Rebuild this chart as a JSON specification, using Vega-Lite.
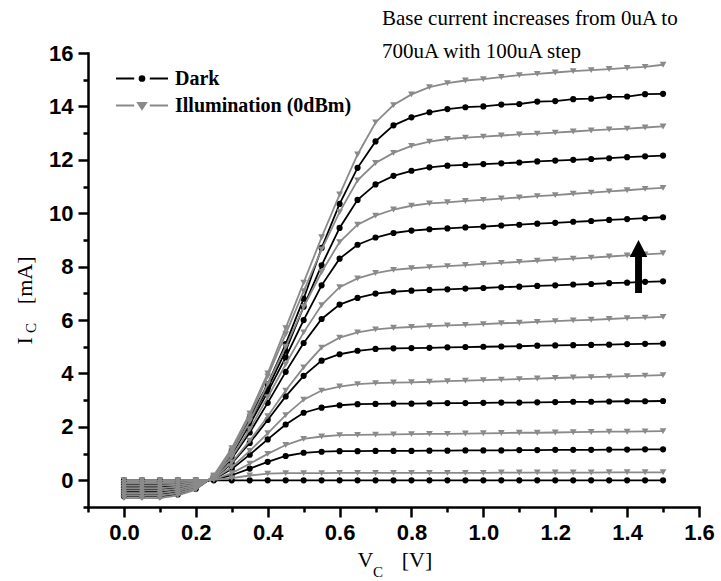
{
  "$schema": "https://vega.github.io/schema/vega-lite/v6.json",
  "width": 611,
  "height": 454,
  "autosize": {"type": "none"},
  "padding": {"left": 88, "top": 53, "right": 22, "bottom": 74},
  "background": "white",
  "config": {"view": {"stroke": null}, "font": "Liberation Sans"},
  "resolve": {"axis": {"x": "independent", "y": "independent"}},
  "datasets": {
    "curves": [
      {"c":"Dark","b":0,"v":0,"i":0},{"c":"Dark","b":0,"v":0.05,"i":0},{"c":"Dark","b":0,"v":0.1,"i":0},{"c":"Dark","b":0,"v":0.15,"i":0},{"c":"Dark","b":0,"v":0.2,"i":0},{"c":"Dark","b":0,"v":0.25,"i":0},{"c":"Dark","b":0,"v":0.3,"i":0},{"c":"Dark","b":0,"v":0.35,"i":0},{"c":"Dark","b":0,"v":0.4,"i":0},{"c":"Dark","b":0,"v":0.45,"i":0},{"c":"Dark","b":0,"v":0.5,"i":0},{"c":"Dark","b":0,"v":0.55,"i":0},{"c":"Dark","b":0,"v":0.6,"i":0},{"c":"Dark","b":0,"v":0.65,"i":0},{"c":"Dark","b":0,"v":0.7,"i":0},{"c":"Dark","b":0,"v":0.75,"i":0},{"c":"Dark","b":0,"v":0.8,"i":0},{"c":"Dark","b":0,"v":0.85,"i":0},{"c":"Dark","b":0,"v":0.9,"i":0},{"c":"Dark","b":0,"v":0.95,"i":0},{"c":"Dark","b":0,"v":1,"i":0},{"c":"Dark","b":0,"v":1.05,"i":0},{"c":"Dark","b":0,"v":1.1,"i":0},{"c":"Dark","b":0,"v":1.15,"i":0},{"c":"Dark","b":0,"v":1.2,"i":0},{"c":"Dark","b":0,"v":1.25,"i":0},{"c":"Dark","b":0,"v":1.3,"i":0},{"c":"Dark","b":0,"v":1.35,"i":0},{"c":"Dark","b":0,"v":1.4,"i":0},{"c":"Dark","b":0,"v":1.45,"i":0},{"c":"Dark","b":0,"v":1.5,"i":0},
      {"c":"Dark","b":100,"v":0,"i":-0.09},{"c":"Dark","b":100,"v":0.05,"i":-0.09},{"c":"Dark","b":100,"v":0.1,"i":-0.09},{"c":"Dark","b":100,"v":0.15,"i":-0.08},{"c":"Dark","b":100,"v":0.2,"i":-0.05},{"c":"Dark","b":100,"v":0.25,"i":0.02},{"c":"Dark","b":100,"v":0.3,"i":0.19},{"c":"Dark","b":100,"v":0.35,"i":0.44},{"c":"Dark","b":100,"v":0.4,"i":0.69},{"c":"Dark","b":100,"v":0.45,"i":0.91},{"c":"Dark","b":100,"v":0.5,"i":1.03},{"c":"Dark","b":100,"v":0.55,"i":1.07},{"c":"Dark","b":100,"v":0.6,"i":1.09},{"c":"Dark","b":100,"v":0.65,"i":1.09},{"c":"Dark","b":100,"v":0.7,"i":1.1},{"c":"Dark","b":100,"v":0.75,"i":1.1},{"c":"Dark","b":100,"v":0.8,"i":1.1},{"c":"Dark","b":100,"v":0.85,"i":1.11},{"c":"Dark","b":100,"v":0.9,"i":1.11},{"c":"Dark","b":100,"v":0.95,"i":1.12},{"c":"Dark","b":100,"v":1,"i":1.12},{"c":"Dark","b":100,"v":1.05,"i":1.12},{"c":"Dark","b":100,"v":1.1,"i":1.13},{"c":"Dark","b":100,"v":1.15,"i":1.13},{"c":"Dark","b":100,"v":1.2,"i":1.14},{"c":"Dark","b":100,"v":1.25,"i":1.14},{"c":"Dark","b":100,"v":1.3,"i":1.14},{"c":"Dark","b":100,"v":1.35,"i":1.15},{"c":"Dark","b":100,"v":1.4,"i":1.15},{"c":"Dark","b":100,"v":1.45,"i":1.16},{"c":"Dark","b":100,"v":1.5,"i":1.16},
      {"c":"Dark","b":200,"v":0,"i":-0.17},{"c":"Dark","b":200,"v":0.05,"i":-0.17},{"c":"Dark","b":200,"v":0.1,"i":-0.17},{"c":"Dark","b":200,"v":0.15,"i":-0.15},{"c":"Dark","b":200,"v":0.2,"i":-0.09},{"c":"Dark","b":200,"v":0.25,"i":0.04},{"c":"Dark","b":200,"v":0.3,"i":0.42},{"c":"Dark","b":200,"v":0.35,"i":0.96},{"c":"Dark","b":200,"v":0.4,"i":1.53},{"c":"Dark","b":200,"v":0.45,"i":2.09},{"c":"Dark","b":200,"v":0.5,"i":2.53},{"c":"Dark","b":200,"v":0.55,"i":2.72},{"c":"Dark","b":200,"v":0.6,"i":2.81},{"c":"Dark","b":200,"v":0.65,"i":2.85},{"c":"Dark","b":200,"v":0.7,"i":2.86},{"c":"Dark","b":200,"v":0.75,"i":2.87},{"c":"Dark","b":200,"v":0.8,"i":2.87},{"c":"Dark","b":200,"v":0.85,"i":2.88},{"c":"Dark","b":200,"v":0.9,"i":2.89},{"c":"Dark","b":200,"v":0.95,"i":2.89},{"c":"Dark","b":200,"v":1,"i":2.9},{"c":"Dark","b":200,"v":1.05,"i":2.91},{"c":"Dark","b":200,"v":1.1,"i":2.91},{"c":"Dark","b":200,"v":1.15,"i":2.92},{"c":"Dark","b":200,"v":1.2,"i":2.93},{"c":"Dark","b":200,"v":1.25,"i":2.94},{"c":"Dark","b":200,"v":1.3,"i":2.94},{"c":"Dark","b":200,"v":1.35,"i":2.95},{"c":"Dark","b":200,"v":1.4,"i":2.96},{"c":"Dark","b":200,"v":1.45,"i":2.96},{"c":"Dark","b":200,"v":1.5,"i":2.97},
      {"c":"Dark","b":300,"v":0,"i":-0.26},{"c":"Dark","b":300,"v":0.05,"i":-0.26},{"c":"Dark","b":300,"v":0.1,"i":-0.26},{"c":"Dark","b":300,"v":0.15,"i":-0.23},{"c":"Dark","b":300,"v":0.2,"i":-0.14},{"c":"Dark","b":300,"v":0.25,"i":0.06},{"c":"Dark","b":300,"v":0.3,"i":0.63},{"c":"Dark","b":300,"v":0.35,"i":1.4},{"c":"Dark","b":300,"v":0.4,"i":2.26},{"c":"Dark","b":300,"v":0.45,"i":3.14},{"c":"Dark","b":300,"v":0.5,"i":3.91},{"c":"Dark","b":300,"v":0.55,"i":4.48},{"c":"Dark","b":300,"v":0.6,"i":4.72},{"c":"Dark","b":300,"v":0.65,"i":4.85},{"c":"Dark","b":300,"v":0.7,"i":4.92},{"c":"Dark","b":300,"v":0.75,"i":4.94},{"c":"Dark","b":300,"v":0.8,"i":4.95},{"c":"Dark","b":300,"v":0.85,"i":4.96},{"c":"Dark","b":300,"v":0.9,"i":4.98},{"c":"Dark","b":300,"v":0.95,"i":4.99},{"c":"Dark","b":300,"v":1,"i":5.0},{"c":"Dark","b":300,"v":1.05,"i":5.01},{"c":"Dark","b":300,"v":1.1,"i":5.02},{"c":"Dark","b":300,"v":1.15,"i":5.04},{"c":"Dark","b":300,"v":1.2,"i":5.05},{"c":"Dark","b":300,"v":1.25,"i":5.06},{"c":"Dark","b":300,"v":1.3,"i":5.07},{"c":"Dark","b":300,"v":1.35,"i":5.08},{"c":"Dark","b":300,"v":1.4,"i":5.1},{"c":"Dark","b":300,"v":1.45,"i":5.11},{"c":"Dark","b":300,"v":1.5,"i":5.12},
      {"c":"Dark","b":400,"v":0,"i":-0.34},{"c":"Dark","b":400,"v":0.05,"i":-0.34},{"c":"Dark","b":400,"v":0.1,"i":-0.34},{"c":"Dark","b":400,"v":0.15,"i":-0.3},{"c":"Dark","b":400,"v":0.2,"i":-0.18},{"c":"Dark","b":400,"v":0.25,"i":0.08},{"c":"Dark","b":400,"v":0.3,"i":0.82},{"c":"Dark","b":400,"v":0.35,"i":1.79},{"c":"Dark","b":400,"v":0.4,"i":2.9},{"c":"Dark","b":400,"v":0.45,"i":4.06},{"c":"Dark","b":400,"v":0.5,"i":5.14},{"c":"Dark","b":400,"v":0.55,"i":6.04},{"c":"Dark","b":400,"v":0.6,"i":6.58},{"c":"Dark","b":400,"v":0.65,"i":6.83},{"c":"Dark","b":400,"v":0.7,"i":6.99},{"c":"Dark","b":400,"v":0.75,"i":7.06},{"c":"Dark","b":400,"v":0.8,"i":7.1},{"c":"Dark","b":400,"v":0.85,"i":7.13},{"c":"Dark","b":400,"v":0.9,"i":7.15},{"c":"Dark","b":400,"v":0.95,"i":7.18},{"c":"Dark","b":400,"v":1,"i":7.2},{"c":"Dark","b":400,"v":1.05,"i":7.23},{"c":"Dark","b":400,"v":1.1,"i":7.25},{"c":"Dark","b":400,"v":1.15,"i":7.28},{"c":"Dark","b":400,"v":1.2,"i":7.3},{"c":"Dark","b":400,"v":1.25,"i":7.33},{"c":"Dark","b":400,"v":1.3,"i":7.35},{"c":"Dark","b":400,"v":1.35,"i":7.38},{"c":"Dark","b":400,"v":1.4,"i":7.4},{"c":"Dark","b":400,"v":1.45,"i":7.43},{"c":"Dark","b":400,"v":1.5,"i":7.45},
      {"c":"Dark","b":500,"v":0,"i":-0.43},{"c":"Dark","b":500,"v":0.05,"i":-0.43},{"c":"Dark","b":500,"v":0.1,"i":-0.43},{"c":"Dark","b":500,"v":0.15,"i":-0.38},{"c":"Dark","b":500,"v":0.2,"i":-0.23},{"c":"Dark","b":500,"v":0.25,"i":0.1},{"c":"Dark","b":500,"v":0.3,"i":0.97},{"c":"Dark","b":500,"v":0.35,"i":2.1},{"c":"Dark","b":500,"v":0.4,"i":3.3},{"c":"Dark","b":500,"v":0.45,"i":4.6},{"c":"Dark","b":500,"v":0.5,"i":6.0},{"c":"Dark","b":500,"v":0.55,"i":7.3},{"c":"Dark","b":500,"v":0.6,"i":8.3},{"c":"Dark","b":500,"v":0.65,"i":8.82},{"c":"Dark","b":500,"v":0.7,"i":9.09},{"c":"Dark","b":500,"v":0.75,"i":9.26},{"c":"Dark","b":500,"v":0.8,"i":9.35},{"c":"Dark","b":500,"v":0.85,"i":9.4},{"c":"Dark","b":500,"v":0.9,"i":9.43},{"c":"Dark","b":500,"v":0.95,"i":9.47},{"c":"Dark","b":500,"v":1,"i":9.5},{"c":"Dark","b":500,"v":1.05,"i":9.54},{"c":"Dark","b":500,"v":1.1,"i":9.57},{"c":"Dark","b":500,"v":1.15,"i":9.61},{"c":"Dark","b":500,"v":1.2,"i":9.64},{"c":"Dark","b":500,"v":1.25,"i":9.68},{"c":"Dark","b":500,"v":1.3,"i":9.71},{"c":"Dark","b":500,"v":1.35,"i":9.75},{"c":"Dark","b":500,"v":1.4,"i":9.78},{"c":"Dark","b":500,"v":1.45,"i":9.82},{"c":"Dark","b":500,"v":1.5,"i":9.85},
      {"c":"Dark","b":600,"v":0,"i":-0.51},{"c":"Dark","b":600,"v":0.05,"i":-0.51},{"c":"Dark","b":600,"v":0.1,"i":-0.51},{"c":"Dark","b":600,"v":0.15,"i":-0.45},{"c":"Dark","b":600,"v":0.2,"i":-0.27},{"c":"Dark","b":600,"v":0.25,"i":0.12},{"c":"Dark","b":600,"v":0.3,"i":1.05},{"c":"Dark","b":600,"v":0.35,"i":2.25},{"c":"Dark","b":600,"v":0.4,"i":3.45},{"c":"Dark","b":600,"v":0.45,"i":4.85},{"c":"Dark","b":600,"v":0.5,"i":6.5},{"c":"Dark","b":600,"v":0.55,"i":8.05},{"c":"Dark","b":600,"v":0.6,"i":9.45},{"c":"Dark","b":600,"v":0.65,"i":10.5},{"c":"Dark","b":600,"v":0.7,"i":11.08},{"c":"Dark","b":600,"v":0.75,"i":11.4},{"c":"Dark","b":600,"v":0.8,"i":11.59},{"c":"Dark","b":600,"v":0.85,"i":11.72},{"c":"Dark","b":600,"v":0.9,"i":11.78},{"c":"Dark","b":600,"v":0.95,"i":11.81},{"c":"Dark","b":600,"v":1,"i":11.84},{"c":"Dark","b":600,"v":1.05,"i":11.87},{"c":"Dark","b":600,"v":1.1,"i":11.9},{"c":"Dark","b":600,"v":1.15,"i":11.94},{"c":"Dark","b":600,"v":1.2,"i":11.97},{"c":"Dark","b":600,"v":1.25,"i":12.0},{"c":"Dark","b":600,"v":1.3,"i":12.03},{"c":"Dark","b":600,"v":1.35,"i":12.06},{"c":"Dark","b":600,"v":1.4,"i":12.1},{"c":"Dark","b":600,"v":1.45,"i":12.13},{"c":"Dark","b":600,"v":1.5,"i":12.16},
      {"c":"Dark","b":700,"v":0,"i":-0.6},{"c":"Dark","b":700,"v":0.05,"i":-0.6},{"c":"Dark","b":700,"v":0.1,"i":-0.6},{"c":"Dark","b":700,"v":0.15,"i":-0.53},{"c":"Dark","b":700,"v":0.2,"i":-0.32},{"c":"Dark","b":700,"v":0.25,"i":0.14},{"c":"Dark","b":700,"v":0.3,"i":1.1},{"c":"Dark","b":700,"v":0.35,"i":2.35},{"c":"Dark","b":700,"v":0.4,"i":3.6},{"c":"Dark","b":700,"v":0.45,"i":5.1},{"c":"Dark","b":700,"v":0.5,"i":6.8},{"c":"Dark","b":700,"v":0.55,"i":8.7},{"c":"Dark","b":700,"v":0.6,"i":10.35},{"c":"Dark","b":700,"v":0.65,"i":11.7},{"c":"Dark","b":700,"v":0.7,"i":12.69},{"c":"Dark","b":700,"v":0.75,"i":13.29},{"c":"Dark","b":700,"v":0.8,"i":13.59},{"c":"Dark","b":700,"v":0.85,"i":13.78},{"c":"Dark","b":700,"v":0.9,"i":13.9},{"c":"Dark","b":700,"v":0.95,"i":13.97},{"c":"Dark","b":700,"v":1,"i":14.0},{"c":"Dark","b":700,"v":1.05,"i":14.07},{"c":"Dark","b":700,"v":1.1,"i":14.09},{"c":"Dark","b":700,"v":1.15,"i":14.18},{"c":"Dark","b":700,"v":1.2,"i":14.2},{"c":"Dark","b":700,"v":1.25,"i":14.27},{"c":"Dark","b":700,"v":1.3,"i":14.29},{"c":"Dark","b":700,"v":1.35,"i":14.36},{"c":"Dark","b":700,"v":1.4,"i":14.37},{"c":"Dark","b":700,"v":1.45,"i":14.46},{"c":"Dark","b":700,"v":1.5,"i":14.47},
      {"c":"Illumination (0dBm)","b":0,"v":0,"i":0},{"c":"Illumination (0dBm)","b":0,"v":0.05,"i":0},{"c":"Illumination (0dBm)","b":0,"v":0.1,"i":0},{"c":"Illumination (0dBm)","b":0,"v":0.15,"i":0},{"c":"Illumination (0dBm)","b":0,"v":0.2,"i":0},{"c":"Illumination (0dBm)","b":0,"v":0.25,"i":0.02},{"c":"Illumination (0dBm)","b":0,"v":0.3,"i":0.08},{"c":"Illumination (0dBm)","b":0,"v":0.35,"i":0.18},{"c":"Illumination (0dBm)","b":0,"v":0.4,"i":0.25},{"c":"Illumination (0dBm)","b":0,"v":0.45,"i":0.27},{"c":"Illumination (0dBm)","b":0,"v":0.5,"i":0.27},{"c":"Illumination (0dBm)","b":0,"v":0.55,"i":0.27},{"c":"Illumination (0dBm)","b":0,"v":0.6,"i":0.28},{"c":"Illumination (0dBm)","b":0,"v":0.65,"i":0.28},{"c":"Illumination (0dBm)","b":0,"v":0.7,"i":0.28},{"c":"Illumination (0dBm)","b":0,"v":0.75,"i":0.28},{"c":"Illumination (0dBm)","b":0,"v":0.8,"i":0.28},{"c":"Illumination (0dBm)","b":0,"v":0.85,"i":0.28},{"c":"Illumination (0dBm)","b":0,"v":0.9,"i":0.28},{"c":"Illumination (0dBm)","b":0,"v":0.95,"i":0.28},{"c":"Illumination (0dBm)","b":0,"v":1,"i":0.28},{"c":"Illumination (0dBm)","b":0,"v":1.05,"i":0.29},{"c":"Illumination (0dBm)","b":0,"v":1.1,"i":0.29},{"c":"Illumination (0dBm)","b":0,"v":1.15,"i":0.29},{"c":"Illumination (0dBm)","b":0,"v":1.2,"i":0.29},{"c":"Illumination (0dBm)","b":0,"v":1.25,"i":0.29},{"c":"Illumination (0dBm)","b":0,"v":1.3,"i":0.29},{"c":"Illumination (0dBm)","b":0,"v":1.35,"i":0.3},{"c":"Illumination (0dBm)","b":0,"v":1.4,"i":0.3},{"c":"Illumination (0dBm)","b":0,"v":1.45,"i":0.3},{"c":"Illumination (0dBm)","b":0,"v":1.5,"i":0.3},
      {"c":"Illumination (0dBm)","b":100,"v":0,"i":-0.1},{"c":"Illumination (0dBm)","b":100,"v":0.05,"i":-0.1},{"c":"Illumination (0dBm)","b":100,"v":0.1,"i":-0.1},{"c":"Illumination (0dBm)","b":100,"v":0.15,"i":-0.08},{"c":"Illumination (0dBm)","b":100,"v":0.2,"i":-0.05},{"c":"Illumination (0dBm)","b":100,"v":0.25,"i":0.03},{"c":"Illumination (0dBm)","b":100,"v":0.3,"i":0.27},{"c":"Illumination (0dBm)","b":100,"v":0.35,"i":0.62},{"c":"Illumination (0dBm)","b":100,"v":0.4,"i":0.99},{"c":"Illumination (0dBm)","b":100,"v":0.45,"i":1.32},{"c":"Illumination (0dBm)","b":100,"v":0.5,"i":1.55},{"c":"Illumination (0dBm)","b":100,"v":0.55,"i":1.64},{"c":"Illumination (0dBm)","b":100,"v":0.6,"i":1.69},{"c":"Illumination (0dBm)","b":100,"v":0.65,"i":1.7},{"c":"Illumination (0dBm)","b":100,"v":0.7,"i":1.71},{"c":"Illumination (0dBm)","b":100,"v":0.75,"i":1.72},{"c":"Illumination (0dBm)","b":100,"v":0.8,"i":1.73},{"c":"Illumination (0dBm)","b":100,"v":0.85,"i":1.74},{"c":"Illumination (0dBm)","b":100,"v":0.9,"i":1.74},{"c":"Illumination (0dBm)","b":100,"v":0.95,"i":1.75},{"c":"Illumination (0dBm)","b":100,"v":1,"i":1.76},{"c":"Illumination (0dBm)","b":100,"v":1.05,"i":1.77},{"c":"Illumination (0dBm)","b":100,"v":1.1,"i":1.78},{"c":"Illumination (0dBm)","b":100,"v":1.15,"i":1.78},{"c":"Illumination (0dBm)","b":100,"v":1.2,"i":1.79},{"c":"Illumination (0dBm)","b":100,"v":1.25,"i":1.8},{"c":"Illumination (0dBm)","b":100,"v":1.3,"i":1.81},{"c":"Illumination (0dBm)","b":100,"v":1.35,"i":1.82},{"c":"Illumination (0dBm)","b":100,"v":1.4,"i":1.82},{"c":"Illumination (0dBm)","b":100,"v":1.45,"i":1.83},{"c":"Illumination (0dBm)","b":100,"v":1.5,"i":1.84},
      {"c":"Illumination (0dBm)","b":200,"v":0,"i":-0.19},{"c":"Illumination (0dBm)","b":200,"v":0.05,"i":-0.19},{"c":"Illumination (0dBm)","b":200,"v":0.1,"i":-0.19},{"c":"Illumination (0dBm)","b":200,"v":0.15,"i":-0.16},{"c":"Illumination (0dBm)","b":200,"v":0.2,"i":-0.1},{"c":"Illumination (0dBm)","b":200,"v":0.25,"i":0.05},{"c":"Illumination (0dBm)","b":200,"v":0.3,"i":0.49},{"c":"Illumination (0dBm)","b":200,"v":0.35,"i":1.1},{"c":"Illumination (0dBm)","b":200,"v":0.4,"i":1.76},{"c":"Illumination (0dBm)","b":200,"v":0.45,"i":2.44},{"c":"Illumination (0dBm)","b":200,"v":0.5,"i":3.02},{"c":"Illumination (0dBm)","b":200,"v":0.55,"i":3.36},{"c":"Illumination (0dBm)","b":200,"v":0.6,"i":3.51},{"c":"Illumination (0dBm)","b":200,"v":0.65,"i":3.6},{"c":"Illumination (0dBm)","b":200,"v":0.7,"i":3.64},{"c":"Illumination (0dBm)","b":200,"v":0.75,"i":3.66},{"c":"Illumination (0dBm)","b":200,"v":0.8,"i":3.67},{"c":"Illumination (0dBm)","b":200,"v":0.85,"i":3.69},{"c":"Illumination (0dBm)","b":200,"v":0.9,"i":3.71},{"c":"Illumination (0dBm)","b":200,"v":0.95,"i":3.73},{"c":"Illumination (0dBm)","b":200,"v":1,"i":3.75},{"c":"Illumination (0dBm)","b":200,"v":1.05,"i":3.77},{"c":"Illumination (0dBm)","b":200,"v":1.1,"i":3.79},{"c":"Illumination (0dBm)","b":200,"v":1.15,"i":3.81},{"c":"Illumination (0dBm)","b":200,"v":1.2,"i":3.83},{"c":"Illumination (0dBm)","b":200,"v":1.25,"i":3.85},{"c":"Illumination (0dBm)","b":200,"v":1.3,"i":3.86},{"c":"Illumination (0dBm)","b":200,"v":1.35,"i":3.88},{"c":"Illumination (0dBm)","b":200,"v":1.4,"i":3.9},{"c":"Illumination (0dBm)","b":200,"v":1.45,"i":3.92},{"c":"Illumination (0dBm)","b":200,"v":1.5,"i":3.94},
      {"c":"Illumination (0dBm)","b":300,"v":0,"i":-0.29},{"c":"Illumination (0dBm)","b":300,"v":0.05,"i":-0.29},{"c":"Illumination (0dBm)","b":300,"v":0.1,"i":-0.29},{"c":"Illumination (0dBm)","b":300,"v":0.15,"i":-0.24},{"c":"Illumination (0dBm)","b":300,"v":0.2,"i":-0.15},{"c":"Illumination (0dBm)","b":300,"v":0.25,"i":0.08},{"c":"Illumination (0dBm)","b":300,"v":0.3,"i":0.67},{"c":"Illumination (0dBm)","b":300,"v":0.35,"i":1.48},{"c":"Illumination (0dBm)","b":300,"v":0.4,"i":2.4},{"c":"Illumination (0dBm)","b":300,"v":0.45,"i":3.36},{"c":"Illumination (0dBm)","b":300,"v":0.5,"i":4.23},{"c":"Illumination (0dBm)","b":300,"v":0.55,"i":4.97},{"c":"Illumination (0dBm)","b":300,"v":0.6,"i":5.34},{"c":"Illumination (0dBm)","b":300,"v":0.65,"i":5.54},{"c":"Illumination (0dBm)","b":300,"v":0.7,"i":5.65},{"c":"Illumination (0dBm)","b":300,"v":0.75,"i":5.71},{"c":"Illumination (0dBm)","b":300,"v":0.8,"i":5.74},{"c":"Illumination (0dBm)","b":300,"v":0.85,"i":5.77},{"c":"Illumination (0dBm)","b":300,"v":0.9,"i":5.8},{"c":"Illumination (0dBm)","b":300,"v":0.95,"i":5.82},{"c":"Illumination (0dBm)","b":300,"v":1,"i":5.85},{"c":"Illumination (0dBm)","b":300,"v":1.05,"i":5.88},{"c":"Illumination (0dBm)","b":300,"v":1.1,"i":5.9},{"c":"Illumination (0dBm)","b":300,"v":1.15,"i":5.93},{"c":"Illumination (0dBm)","b":300,"v":1.2,"i":5.96},{"c":"Illumination (0dBm)","b":300,"v":1.25,"i":5.99},{"c":"Illumination (0dBm)","b":300,"v":1.3,"i":6.01},{"c":"Illumination (0dBm)","b":300,"v":1.35,"i":6.04},{"c":"Illumination (0dBm)","b":300,"v":1.4,"i":6.07},{"c":"Illumination (0dBm)","b":300,"v":1.45,"i":6.09},{"c":"Illumination (0dBm)","b":300,"v":1.5,"i":6.12},
      {"c":"Illumination (0dBm)","b":400,"v":0,"i":-0.38},{"c":"Illumination (0dBm)","b":400,"v":0.05,"i":-0.38},{"c":"Illumination (0dBm)","b":400,"v":0.1,"i":-0.38},{"c":"Illumination (0dBm)","b":400,"v":0.15,"i":-0.32},{"c":"Illumination (0dBm)","b":400,"v":0.2,"i":-0.2},{"c":"Illumination (0dBm)","b":400,"v":0.25,"i":0.1},{"c":"Illumination (0dBm)","b":400,"v":0.3,"i":0.87},{"c":"Illumination (0dBm)","b":400,"v":0.35,"i":1.91},{"c":"Illumination (0dBm)","b":400,"v":0.4,"i":3.11},{"c":"Illumination (0dBm)","b":400,"v":0.45,"i":4.34},{"c":"Illumination (0dBm)","b":400,"v":0.5,"i":5.54},{"c":"Illumination (0dBm)","b":400,"v":0.55,"i":6.56},{"c":"Illumination (0dBm)","b":400,"v":0.6,"i":7.23},{"c":"Illumination (0dBm)","b":400,"v":0.65,"i":7.56},{"c":"Illumination (0dBm)","b":400,"v":0.7,"i":7.76},{"c":"Illumination (0dBm)","b":400,"v":0.75,"i":7.88},{"c":"Illumination (0dBm)","b":400,"v":0.8,"i":7.94},{"c":"Illumination (0dBm)","b":400,"v":0.85,"i":7.98},{"c":"Illumination (0dBm)","b":400,"v":0.9,"i":8.02},{"c":"Illumination (0dBm)","b":400,"v":0.95,"i":8.06},{"c":"Illumination (0dBm)","b":400,"v":1,"i":8.1},{"c":"Illumination (0dBm)","b":400,"v":1.05,"i":8.14},{"c":"Illumination (0dBm)","b":400,"v":1.1,"i":8.18},{"c":"Illumination (0dBm)","b":400,"v":1.15,"i":8.22},{"c":"Illumination (0dBm)","b":400,"v":1.2,"i":8.26},{"c":"Illumination (0dBm)","b":400,"v":1.25,"i":8.3},{"c":"Illumination (0dBm)","b":400,"v":1.3,"i":8.34},{"c":"Illumination (0dBm)","b":400,"v":1.35,"i":8.38},{"c":"Illumination (0dBm)","b":400,"v":1.4,"i":8.42},{"c":"Illumination (0dBm)","b":400,"v":1.45,"i":8.46},{"c":"Illumination (0dBm)","b":400,"v":1.5,"i":8.5},
      {"c":"Illumination (0dBm)","b":500,"v":0,"i":-0.48},{"c":"Illumination (0dBm)","b":500,"v":0.05,"i":-0.48},{"c":"Illumination (0dBm)","b":500,"v":0.1,"i":-0.48},{"c":"Illumination (0dBm)","b":500,"v":0.15,"i":-0.4},{"c":"Illumination (0dBm)","b":500,"v":0.2,"i":-0.25},{"c":"Illumination (0dBm)","b":500,"v":0.25,"i":0.13},{"c":"Illumination (0dBm)","b":500,"v":0.3,"i":1.01},{"c":"Illumination (0dBm)","b":500,"v":0.35,"i":2.21},{"c":"Illumination (0dBm)","b":500,"v":0.4,"i":3.6},{"c":"Illumination (0dBm)","b":500,"v":0.45,"i":5.0},{"c":"Illumination (0dBm)","b":500,"v":0.5,"i":6.49},{"c":"Illumination (0dBm)","b":500,"v":0.55,"i":7.8},{"c":"Illumination (0dBm)","b":500,"v":0.6,"i":8.92},{"c":"Illumination (0dBm)","b":500,"v":0.65,"i":9.57},{"c":"Illumination (0dBm)","b":500,"v":0.7,"i":9.91},{"c":"Illumination (0dBm)","b":500,"v":0.75,"i":10.14},{"c":"Illumination (0dBm)","b":500,"v":0.8,"i":10.28},{"c":"Illumination (0dBm)","b":500,"v":0.85,"i":10.37},{"c":"Illumination (0dBm)","b":500,"v":0.9,"i":10.41},{"c":"Illumination (0dBm)","b":500,"v":0.95,"i":10.46},{"c":"Illumination (0dBm)","b":500,"v":1,"i":10.5},{"c":"Illumination (0dBm)","b":500,"v":1.05,"i":10.55},{"c":"Illumination (0dBm)","b":500,"v":1.1,"i":10.59},{"c":"Illumination (0dBm)","b":500,"v":1.15,"i":10.64},{"c":"Illumination (0dBm)","b":500,"v":1.2,"i":10.68},{"c":"Illumination (0dBm)","b":500,"v":1.25,"i":10.73},{"c":"Illumination (0dBm)","b":500,"v":1.3,"i":10.77},{"c":"Illumination (0dBm)","b":500,"v":1.35,"i":10.82},{"c":"Illumination (0dBm)","b":500,"v":1.4,"i":10.86},{"c":"Illumination (0dBm)","b":500,"v":1.45,"i":10.91},{"c":"Illumination (0dBm)","b":500,"v":1.5,"i":10.95},
      {"c":"Illumination (0dBm)","b":600,"v":0,"i":-0.57},{"c":"Illumination (0dBm)","b":600,"v":0.05,"i":-0.57},{"c":"Illumination (0dBm)","b":600,"v":0.1,"i":-0.57},{"c":"Illumination (0dBm)","b":600,"v":0.15,"i":-0.48},{"c":"Illumination (0dBm)","b":600,"v":0.2,"i":-0.3},{"c":"Illumination (0dBm)","b":600,"v":0.25,"i":0.15},{"c":"Illumination (0dBm)","b":600,"v":0.3,"i":1.11},{"c":"Illumination (0dBm)","b":600,"v":0.35,"i":2.39},{"c":"Illumination (0dBm)","b":600,"v":0.4,"i":3.89},{"c":"Illumination (0dBm)","b":600,"v":0.45,"i":5.47},{"c":"Illumination (0dBm)","b":600,"v":0.5,"i":7.08},{"c":"Illumination (0dBm)","b":600,"v":0.55,"i":8.64},{"c":"Illumination (0dBm)","b":600,"v":0.6,"i":10.04},{"c":"Illumination (0dBm)","b":600,"v":0.65,"i":11.23},{"c":"Illumination (0dBm)","b":600,"v":0.7,"i":11.88},{"c":"Illumination (0dBm)","b":600,"v":0.75,"i":12.26},{"c":"Illumination (0dBm)","b":600,"v":0.8,"i":12.52},{"c":"Illumination (0dBm)","b":600,"v":0.85,"i":12.68},{"c":"Illumination (0dBm)","b":600,"v":0.9,"i":12.78},{"c":"Illumination (0dBm)","b":600,"v":0.95,"i":12.83},{"c":"Illumination (0dBm)","b":600,"v":1,"i":12.87},{"c":"Illumination (0dBm)","b":600,"v":1.05,"i":12.91},{"c":"Illumination (0dBm)","b":600,"v":1.1,"i":12.95},{"c":"Illumination (0dBm)","b":600,"v":1.15,"i":12.98},{"c":"Illumination (0dBm)","b":600,"v":1.2,"i":13.02},{"c":"Illumination (0dBm)","b":600,"v":1.25,"i":13.06},{"c":"Illumination (0dBm)","b":600,"v":1.3,"i":13.1},{"c":"Illumination (0dBm)","b":600,"v":1.35,"i":13.14},{"c":"Illumination (0dBm)","b":600,"v":1.4,"i":13.17},{"c":"Illumination (0dBm)","b":600,"v":1.45,"i":13.21},{"c":"Illumination (0dBm)","b":600,"v":1.5,"i":13.25},
      {"c":"Illumination (0dBm)","b":700,"v":0,"i":-0.67},{"c":"Illumination (0dBm)","b":700,"v":0.05,"i":-0.67},{"c":"Illumination (0dBm)","b":700,"v":0.1,"i":-0.67},{"c":"Illumination (0dBm)","b":700,"v":0.15,"i":-0.56},{"c":"Illumination (0dBm)","b":700,"v":0.2,"i":-0.35},{"c":"Illumination (0dBm)","b":700,"v":0.25,"i":0.18},{"c":"Illumination (0dBm)","b":700,"v":0.3,"i":1.2},{"c":"Illumination (0dBm)","b":700,"v":0.35,"i":2.5},{"c":"Illumination (0dBm)","b":700,"v":0.4,"i":4.0},{"c":"Illumination (0dBm)","b":700,"v":0.45,"i":5.7},{"c":"Illumination (0dBm)","b":700,"v":0.5,"i":7.4},{"c":"Illumination (0dBm)","b":700,"v":0.55,"i":9.1},{"c":"Illumination (0dBm)","b":700,"v":0.6,"i":10.7},{"c":"Illumination (0dBm)","b":700,"v":0.65,"i":12.2},{"c":"Illumination (0dBm)","b":700,"v":0.7,"i":13.4},{"c":"Illumination (0dBm)","b":700,"v":0.75,"i":14.05},{"c":"Illumination (0dBm)","b":700,"v":0.8,"i":14.45},{"c":"Illumination (0dBm)","b":700,"v":0.85,"i":14.72},{"c":"Illumination (0dBm)","b":700,"v":0.9,"i":14.87},{"c":"Illumination (0dBm)","b":700,"v":0.95,"i":14.97},{"c":"Illumination (0dBm)","b":700,"v":1,"i":15.02},{"c":"Illumination (0dBm)","b":700,"v":1.05,"i":15.1},{"c":"Illumination (0dBm)","b":700,"v":1.1,"i":15.17},{"c":"Illumination (0dBm)","b":700,"v":1.15,"i":15.22},{"c":"Illumination (0dBm)","b":700,"v":1.2,"i":15.27},{"c":"Illumination (0dBm)","b":700,"v":1.25,"i":15.32},{"c":"Illumination (0dBm)","b":700,"v":1.3,"i":15.36},{"c":"Illumination (0dBm)","b":700,"v":1.35,"i":15.4},{"c":"Illumination (0dBm)","b":700,"v":1.4,"i":15.44},{"c":"Illumination (0dBm)","b":700,"v":1.45,"i":15.48},{"c":"Illumination (0dBm)","b":700,"v":1.5,"i":15.56}
    ]
  },
  "layer": [
    {
      "data": {"name": "curves"},
      "transform": [{"filter": "datum.c === 'Dark'"}],
      "mark": {"type": "line", "color": "#000000", "strokeWidth": 1.8},
      "encoding": {
        "x": {
          "field": "v", "type": "quantitative",
          "scale": {"domain": [-0.1, 1.6], "nice": false, "zero": false},
          "axis": {
            "orient": "bottom",
            "values": [0,0.2,0.4,0.6,0.8,1.0,1.2,1.4,1.6],
            "format": ".1f",
            "tickSize": 10,
            "labelFont": "Liberation Sans", "labelFontWeight": "bold", "labelFontSize": 22, "labelColor": "#000000",
            "labelPadding": 5, "labelFlush": false, "labelOverlap": false,
            "domainColor": "#000000", "domainWidth": 2.5, "domainCap": "square",
            "tickColor": "#000000", "tickWidth": 2.5, "grid": false,
            "title": "V",
            "titleFont": "Liberation Serif", "titleFontSize": 22, "titleFontWeight": "normal", "titleColor": "#000000",
            "titleAlign": "center", "titleBaseline": "alphabetic", "titleX": 277, "titleY": 59
          }
        },
        "y": {
          "field": "i", "type": "quantitative",
          "scale": {"domain": [-1, 16], "nice": false, "zero": false},
          "axis": {
            "orient": "left",
            "values": [0,2,4,6,8,10,12,14,16],
            "tickSize": 10,
            "labelFont": "Liberation Sans", "labelFontWeight": "bold", "labelFontSize": 22, "labelColor": "#000000",
            "labelPadding": 5, "labelFlush": false, "labelOverlap": false,
            "domainColor": "#000000", "domainWidth": 2.5, "domainCap": "square",
            "tickColor": "#000000", "tickWidth": 2.5, "grid": false,
            "title": "I\u00a0\u00a0\u00a0\u00a0\u00a0\u00a0[mA]",
            "titleFont": "Liberation Serif", "titleFontSize": 22, "titleFontWeight": "normal", "titleColor": "#000000",
            "titleAngle": 270, "titleAlign": "center", "titleBaseline": "alphabetic", "titleX": -57, "titleY": 247
          }
        },
        "detail": {"field": "b", "type": "nominal"}
      }
    },
    {
      "data": {"name": "curves"},
      "transform": [{"filter": "datum.c === 'Dark'"}],
      "mark": {"type": "point", "shape": "circle", "filled": true, "opacity": 1, "size": 38, "color": "#000000"},
      "encoding": {
        "x": {
          "field": "v", "type": "quantitative",
          "axis": {"orient": "bottom", "values": [-0.1,0.1,0.3,0.5,0.7,0.9,1.1,1.3,1.5], "labels": false, "domain": false, "grid": false, "tickSize": 5, "tickWidth": 2.5, "tickColor": "#000000", "title": null}
        },
        "y": {
          "field": "i", "type": "quantitative",
          "axis": {"orient": "left", "values": [-1,1,3,5,7,9,11,13,15], "labels": false, "domain": false, "grid": false, "tickSize": 5, "tickWidth": 2.5, "tickColor": "#000000", "title": null}
        },
        "detail": {"field": "b", "type": "nominal"}
      }
    },
    {
      "data": {"name": "curves"},
      "transform": [{"filter": "datum.c !== 'Dark'"}],
      "mark": {"type": "line", "color": "#8a8a8a", "strokeWidth": 1.8},
      "encoding": {
        "x": {"field": "v", "type": "quantitative", "axis": null},
        "y": {"field": "i", "type": "quantitative", "axis": null},
        "detail": {"field": "b", "type": "nominal"}
      }
    },
    {
      "data": {"name": "curves"},
      "transform": [{"filter": "datum.c !== 'Dark'"}],
      "mark": {"type": "point", "shape": "triangle-down", "filled": true, "opacity": 1, "size": 46, "color": "#8a8a8a"},
      "encoding": {
        "x": {"field": "v", "type": "quantitative", "axis": null},
        "y": {"field": "i", "type": "quantitative", "axis": null},
        "detail": {"field": "b", "type": "nominal"}
      }
    },
    {
      "data": {"name": "curves"},
      "transform": [{"filter": "datum.v > 99"}],
      "mark": {"type": "point", "strokeWidth": 2, "opacity": 1},
      "encoding": {
        "x": {"field": "v", "type": "quantitative", "axis": null},
        "y": {"field": "i", "type": "quantitative", "axis": null},
        "shape": {
          "field": "c", "type": "nominal",
          "scale": {"domain": ["Dark", "Illumination (0dBm)"], "range": ["M-1,0L-0.3,0M0.3,0L1,0M0.09,0A0.09,0.09,0,1,1,-0.09,0A0.09,0.09,0,1,1,0.09,0Z", "M-1,0L-0.3,0M0.3,0L1,0M-0.15,-0.1L0.15,-0.1L0,0.13Z"]},
          "legend": {"title": null, "orient": "none", "legendX": 27, "legendY": 15, "symbolSize": 2704, "symbolStrokeWidth": 2, "clipHeight": 21, "rowPadding": 6, "labelFont": "Liberation Serif", "labelFontSize": 20, "labelFontWeight": "bold", "labelColor": "#000000", "labelOffset": 6, "labelLimit": 0, "padding": 0}
        },
        "fill": {
          "field": "c", "type": "nominal",
          "scale": {"domain": ["Dark", "Illumination (0dBm)"], "range": ["#000000", "#8a8a8a"]},
          "legend": {"title": null, "orient": "none", "legendX": 27, "legendY": 15, "symbolSize": 2704, "symbolStrokeWidth": 2, "clipHeight": 21, "rowPadding": 6, "labelFont": "Liberation Serif", "labelFontSize": 20, "labelFontWeight": "bold", "labelColor": "#000000", "labelOffset": 6, "labelLimit": 0, "padding": 0}
        },
        "stroke": {
          "field": "c", "type": "nominal",
          "scale": {"domain": ["Dark", "Illumination (0dBm)"], "range": ["#000000", "#8a8a8a"]},
          "legend": {"title": null, "orient": "none", "legendX": 27, "legendY": 15, "symbolSize": 2704, "symbolStrokeWidth": 2, "clipHeight": 21, "rowPadding": 6, "labelFont": "Liberation Serif", "labelFontSize": 20, "labelFontWeight": "bold", "labelColor": "#000000", "labelOffset": 6, "labelLimit": 0, "padding": 0}
        }
      }
    },
    {
      "data": {"values": [{"note": "Base current increases from 0uA to\n700uA with 100uA step"}]},
      "mark": {"type": "text", "align": "left", "baseline": "alphabetic", "font": "Liberation Serif", "fontSize": 21, "lineHeight": 33, "lineBreak": "\n", "color": "#000000"},
      "encoding": {
        "x": {"datum": 0.718, "type": "quantitative", "axis": null},
        "y": {"datum": 17.05, "type": "quantitative", "axis": null},
        "text": {"field": "note"}
      }
    },
    {
      "data": {"values": [{"marker": "increasing base current"}]},
      "mark": {"type": "point", "shape": "M-0.13,1L-0.13,-0.36L-0.33,-0.36L0,-1L0.33,-0.36L0.13,-0.36L0.13,1Z", "size": 2809, "filled": true, "opacity": 1, "color": "#000000", "strokeWidth": 0},
      "encoding": {
        "x": {"datum": 1.4317, "type": "quantitative", "axis": null},
        "y": {"datum": 8.006, "type": "quantitative", "axis": null}
      }
    },
    {
      "data": {"values": [{"sub": "C", "unit": "[V]"}]},
      "layer": [
        {
          "mark": {"type": "text", "align": "center", "baseline": "alphabetic", "font": "Liberation Serif", "fontSize": 15, "color": "#000000"},
          "encoding": {
            "x": {"datum": 0.7069, "type": "quantitative", "axis": null},
            "y": {"datum": -3.62, "type": "quantitative", "axis": null},
            "text": {"field": "sub"}
          }
        },
        {
          "mark": {"type": "text", "align": "center", "baseline": "alphabetic", "font": "Liberation Serif", "fontSize": 22, "color": "#000000"},
          "encoding": {
            "x": {"datum": 0.8154, "type": "quantitative", "axis": null},
            "y": {"datum": -3.247, "type": "quantitative", "axis": null},
            "text": {"field": "unit"}
          }
        }
      ]
    },
    {
      "data": {"values": [{"sub": "C"}]},
      "mark": {"type": "text", "align": "center", "baseline": "alphabetic", "angle": 270, "font": "Liberation Serif", "fontSize": 15, "color": "#000000"},
      "encoding": {
        "x": {"datum": -0.2447, "type": "quantitative", "axis": null},
        "y": {"datum": 5.7, "type": "quantitative", "axis": null},
        "text": {"field": "sub"}
      }
    }
  ]
}
